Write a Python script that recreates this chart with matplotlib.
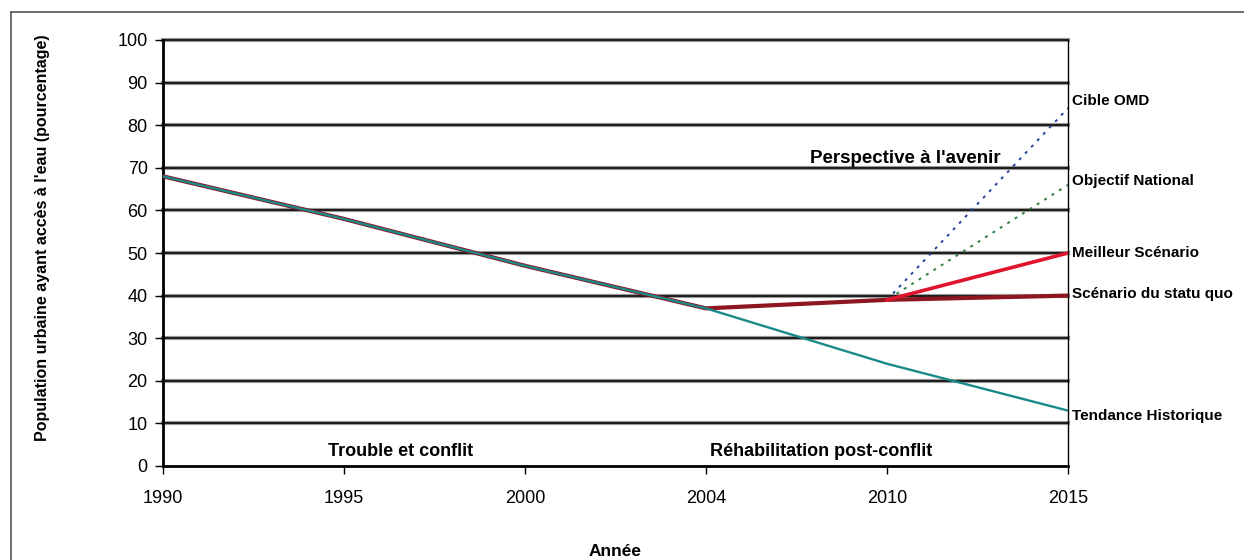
import numpy as np
import matplotlib.pyplot as plt
from matplotlib.lines import Line2D

plt.rcParams['font.family'] = ['Liberation Sans', 'DejaVu Sans']

# données (pourcentage de la population urbaine ayant accès à l'eau)
annees = ['1990', '1995', '2000', '2004', '2010', '2015']
tendance_historique = [68, 58, 47, 37, 24, 13]
statu_quo = [68, 58, 47, 37, 39, 40]
meilleur_scenario = [np.nan, np.nan, np.nan, np.nan, 39, 50]
objectif_national = [np.nan, np.nan, np.nan, 37, 39, 66]
cible_omd = [np.nan, np.nan, np.nan, np.nan, 39, 84]

x = np.arange(len(annees))

fig = plt.figure(figsize=(12.44, 5.6), dpi=100)
ax = fig.add_axes([163 / 1244, 1 - 466 / 560, 905 / 1244, 426 / 560])

# cadre extérieur
fig.add_artist(Line2D([11 / 1244, 11 / 1244], [0, 1 - 12 / 560], transform=fig.transFigure, color='#555555', lw=1.2))
fig.add_artist(Line2D([11 / 1244, 1], [1 - 12 / 560, 1 - 12 / 560], transform=fig.transFigure, color='#555555', lw=1.2))

# quadrillage horizontal
for v in range(10, 101, 10):
    ax.axhline(v, color='#9a9a9a', lw=3.0, zorder=1, clip_on=False)
    ax.axhline(v, color='#111111', lw=1.3, zorder=1.1, clip_on=False)

ax.plot(x, objectif_national, color='#2e7d3e', lw=1.4, ls=(0, (1.5, 3)), zorder=2)
ax.plot(x, cible_omd, color='#23409a', lw=1.4, ls=(0, (1.5, 3)), zorder=2)
ax.plot(x, statu_quo, color='#8e1620', lw=3.0, zorder=3)
ax.plot(x, meilleur_scenario, color='#e0142c', lw=2.6, zorder=3)
ax.plot(x, tendance_historique, color='#1a8a88', lw=1.7, zorder=4)

ax.set_xlim(0, 5)
ax.set_ylim(0, 100)
ax.set_xticks(x)
ax.set_xticklabels(annees)
ax.set_yticks(range(0, 101, 10))
ax.tick_params(axis='both', labelsize=13, direction='out', length=6, width=1)
ax.tick_params(axis='y', pad=5)
ax.tick_params(axis='x', pad=11)

ax.spines['top'].set_visible(False)
ax.spines['left'].set_linewidth(2)
ax.spines['bottom'].set_linewidth(2)
ax.spines['right'].set_linewidth(1)

ax.set_ylabel("Population urbaine ayant accès à l'eau (pourcentage)", fontsize=11.5, fontweight='bold')
ax.yaxis.set_label_coords(-0.125, 0.535)
ax.set_xlabel('Année', fontsize=12.5, fontweight='bold')
ax.xaxis.set_label_coords(0.5, -0.182)

# étiquettes des séries en bout de ligne
etiquettes = [
    ('Cible OMD', cible_omd[-1], 5),
    ('Objectif National', objectif_national[-1], 3),
    ('Meilleur Scénario', meilleur_scenario[-1], 0),
    ('Scénario du statu quo', statu_quo[-1], 1),
    ('Tendance Historique', tendance_historique[-1], -4),
]
for texte, val, dy in etiquettes:
    ax.annotate(texte, xy=(5, val), xytext=(3, dy), textcoords='offset points',
                ha='left', va='center', fontsize=11, fontweight='bold', annotation_clip=False)

ax.text(4.10, 72.3, "Perspective à l'avenir", ha='center', va='center', fontsize=13.5, fontweight='bold')
ax.text(1.31, 3.5, 'Trouble et conflit', ha='center', va='center', fontsize=13, fontweight='bold')
ax.text(3.635, 3.5, 'Réhabilitation post-conflit', ha='center', va='center', fontsize=13, fontweight='bold')

fig.savefig('out.png', dpi=100)
